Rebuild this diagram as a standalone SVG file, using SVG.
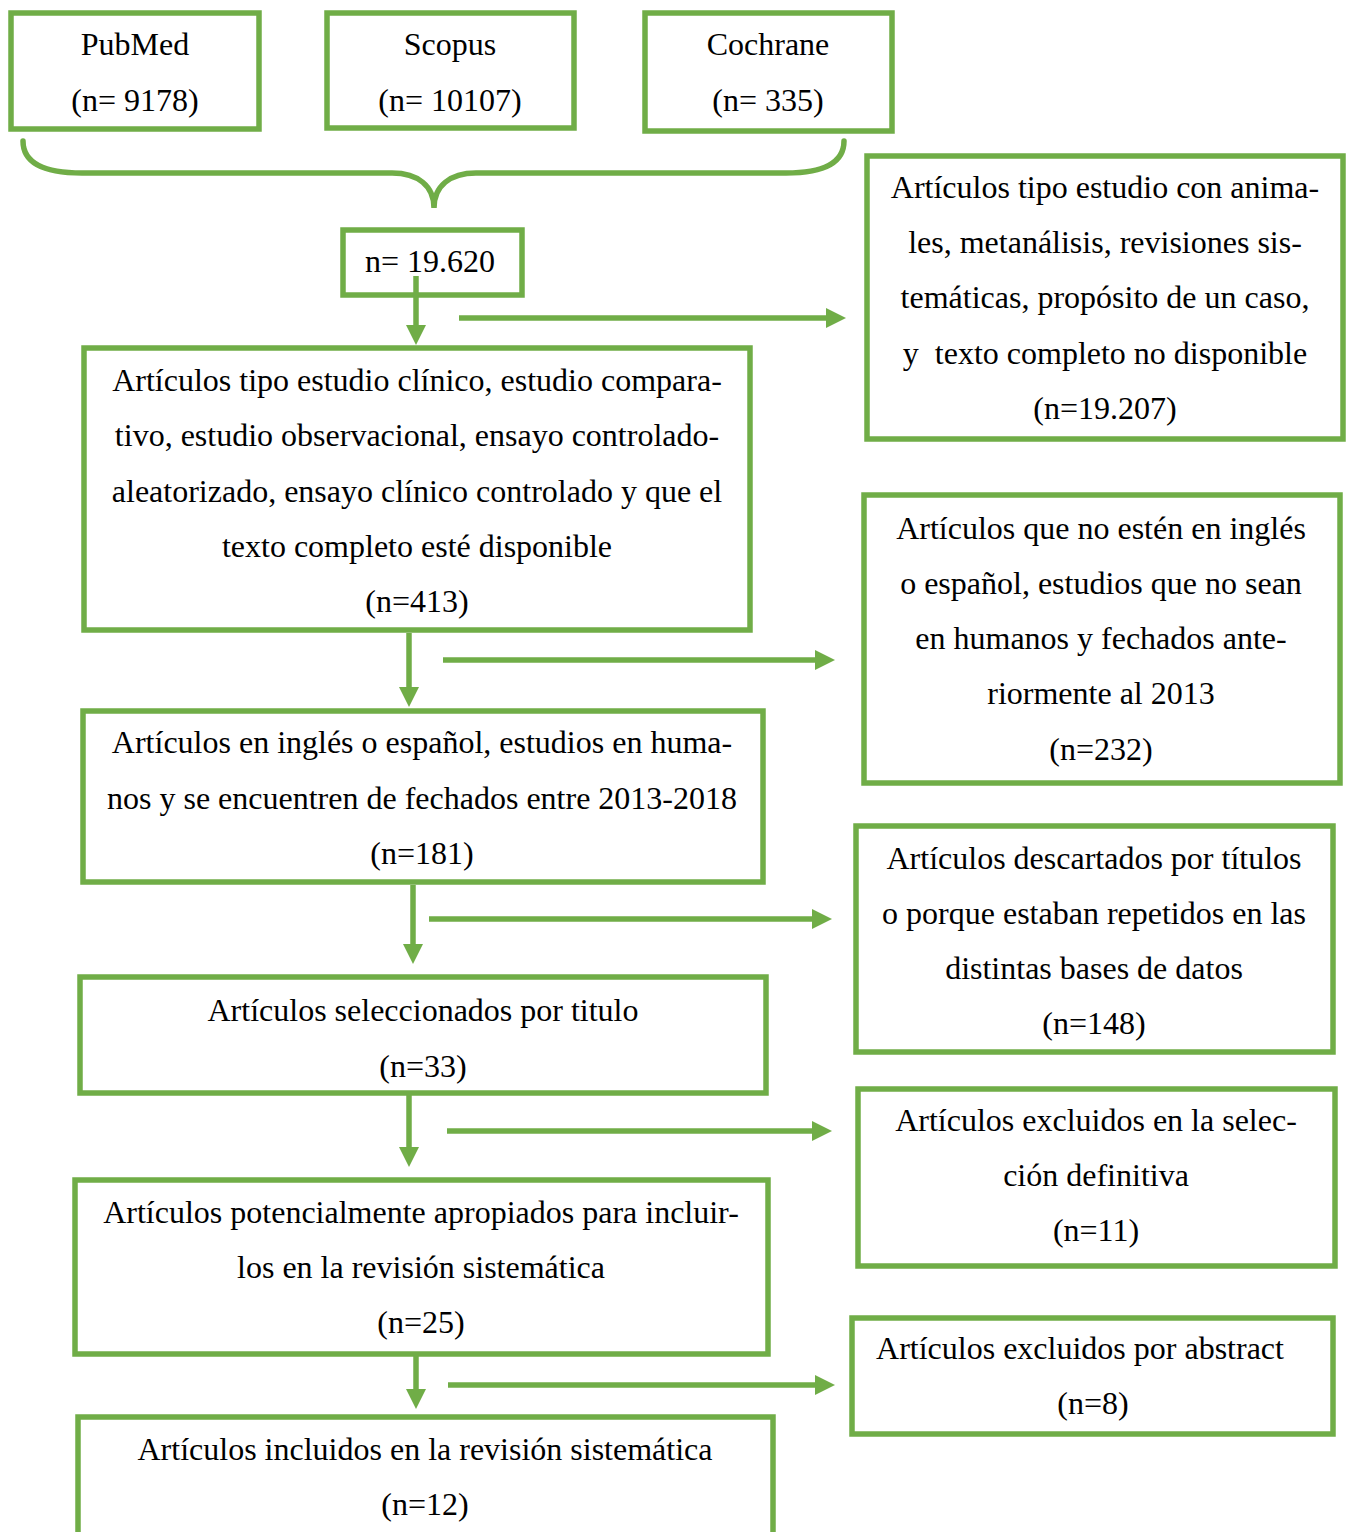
<svg xmlns="http://www.w3.org/2000/svg" width="1352" height="1532" viewBox="0 0 1352 1532">
<style>
.box{fill:#fff;stroke:#70AD47;stroke-width:5.5}
.ln{fill:none;stroke:#70AD47;stroke-width:5.5}
.br{fill:none;stroke:#70AD47;stroke-width:5.5;stroke-linecap:round}
text{font-family:"Liberation Serif","Times New Roman",serif;font-size:32px;fill:#000;text-anchor:middle;white-space:pre}
</style>
<defs>
<marker id="ah" markerWidth="20" markerHeight="20" refX="5" refY="10" orient="auto" markerUnits="userSpaceOnUse">
<path d="M0,0 L20,10 L0,20 z" fill="#70AD47"/>
</marker>
</defs>
<rect width="1352" height="1532" fill="#fff"/>
<g id="pubmed"><rect class="box" x="11" y="13" width="248" height="116"/><text x="135" y="55">PubMed</text><text x="135" y="111">(n= 9178)</text></g>
<g id="scopus"><rect class="box" x="327" y="13" width="247" height="115"/><text x="450" y="55">Scopus</text><text x="450" y="111">(n= 10107)</text></g>
<g id="cochrane"><rect class="box" x="645" y="13" width="247" height="118"/><text x="768" y="55">Cochrane</text><text x="768" y="111">(n= 335)</text></g>
<g id="total"><rect class="box" x="343" y="230" width="179" height="65"/><text x="430" y="272">n= 19.620</text></g>
<g id="box1"><rect class="box" x="84" y="348" width="666" height="282"/>
<text x="417" y="391">Artículos tipo estudio clínico, estudio compara-</text>
<text x="417" y="446">tivo, estudio observacional, ensayo controlado-</text>
<text x="417" y="502">aleatorizado, ensayo clínico controlado y que el</text>
<text x="417" y="557">texto completo esté disponible</text>
<text x="417" y="612">(n=413)</text></g>
<g id="box2"><rect class="box" x="83" y="711" width="680" height="171"/>
<text x="422" y="753">Artículos en inglés o español, estudios en huma-</text>
<text x="422" y="809">nos y se encuentren de fechados entre 2013-2018</text>
<text x="422" y="864">(n=181)</text></g>
<g id="box3"><rect class="box" x="80" y="977" width="686" height="116"/>
<text x="423" y="1021">Artículos seleccionados por titulo</text>
<text x="423" y="1077">(n=33)</text></g>
<g id="box4"><rect class="box" x="75" y="1180" width="693" height="174"/>
<text x="421" y="1223">Artículos potencialmente apropiados para incluir-</text>
<text x="421" y="1278">los en la revisión sistemática</text>
<text x="421" y="1333">(n=25)</text></g>
<g id="box5"><rect class="box" x="78" y="1417" width="695" height="140"/>
<text x="425" y="1460">Artículos incluidos en la revisión sistemática</text>
<text x="425" y="1515">(n=12)</text></g>
<g id="ex1"><rect class="box" x="867" y="156" width="476" height="283"/>
<text x="1105" y="198">Artículos tipo estudio con anima-</text>
<text x="1105" y="253">les, metanálisis, revisiones sis-</text>
<text x="1105" y="308">temáticas, propósito de un caso,</text>
<text x="1105" y="364">y  texto completo no disponible</text>
<text x="1105" y="419">(n=19.207)</text></g>
<g id="ex2"><rect class="box" x="864" y="495" width="476" height="288"/>
<text x="1101" y="539">Artículos que no estén en inglés</text>
<text x="1101" y="594">o español, estudios que no sean</text>
<text x="1101" y="649">en humanos y fechados ante-</text>
<text x="1101" y="704">riormente al 2013</text>
<text x="1101" y="760">(n=232)</text></g>
<g id="ex3"><rect class="box" x="856" y="826" width="477" height="226"/>
<text x="1094" y="869">Artículos descartados por títulos</text>
<text x="1094" y="924">o porque estaban repetidos en las</text>
<text x="1094" y="979">distintas bases de datos</text>
<text x="1094" y="1034">(n=148)</text></g>
<g id="ex4"><rect class="box" x="858" y="1089" width="477" height="177"/>
<text x="1096" y="1131">Artículos excluidos en la selec-</text>
<text x="1096" y="1186">ción definitiva</text>
<text x="1096" y="1241">(n=11)</text></g>
<g id="ex5"><rect class="box" x="852" y="1318" width="481" height="116"/>
<text x="1080" y="1359">Artículos excluidos por abstract</text>
<text x="1093" y="1414">(n=8)</text></g>
<g id="connectors">
<path class="br" d="M23,141 C23,162 42,173 82,173 L392,173 C418,173 434,186 434,208 C434,186 450,173 476,173 L786,173 C826,173 844,162 844,141"/>
<line class="ln" x1="416" y1="276" x2="416" y2="330" marker-end="url(#ah)"/>
<line class="ln" x1="459" y1="318" x2="831" y2="318" marker-end="url(#ah)"/>
<line class="ln" x1="409" y1="633" x2="409" y2="692" marker-end="url(#ah)"/>
<line class="ln" x1="443" y1="660" x2="820" y2="660" marker-end="url(#ah)"/>
<line class="ln" x1="413" y1="885" x2="413" y2="949" marker-end="url(#ah)"/>
<line class="ln" x1="429" y1="919" x2="817" y2="919" marker-end="url(#ah)"/>
<line class="ln" x1="409" y1="1093" x2="409" y2="1152" marker-end="url(#ah)"/>
<line class="ln" x1="447" y1="1131" x2="817" y2="1131" marker-end="url(#ah)"/>
<line class="ln" x1="416" y1="1354" x2="416" y2="1394" marker-end="url(#ah)"/>
<line class="ln" x1="448" y1="1385" x2="820" y2="1385" marker-end="url(#ah)"/>
</g>
</svg>
